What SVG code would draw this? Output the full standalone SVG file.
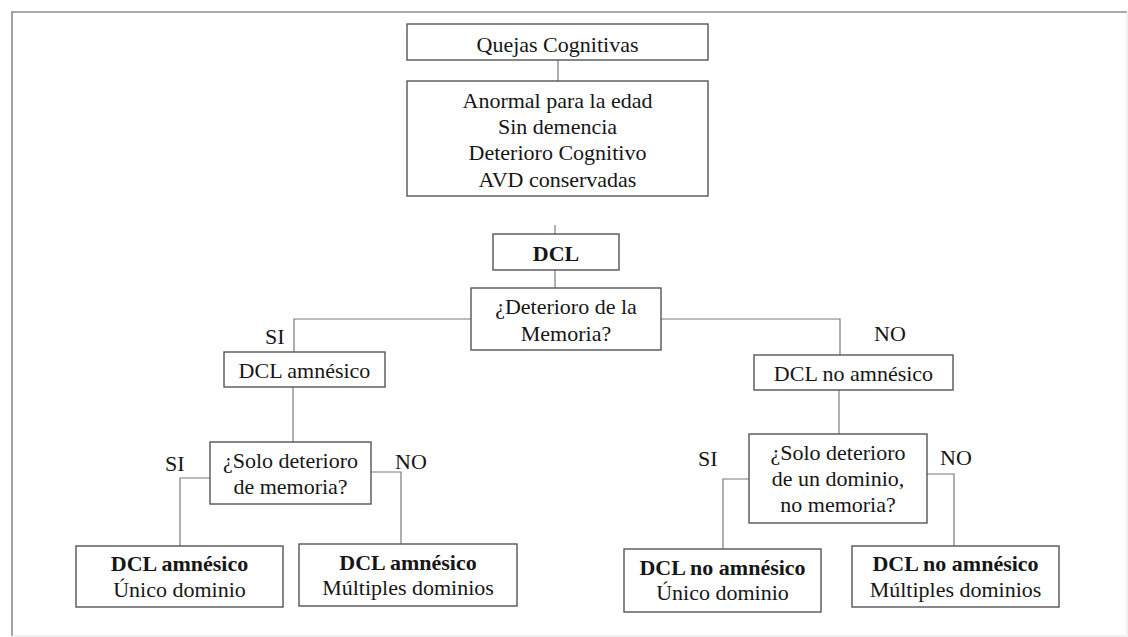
<svg xmlns="http://www.w3.org/2000/svg" width="1128" height="637" viewBox="0 0 1128 637">
<style>
.box{fill:#fff;stroke:#555;stroke-width:1.4}
text{font-family:"Liberation Serif","Times New Roman",serif;font-size:22px;fill:#161616}
.t{text-anchor:middle}
.b{font-weight:bold}
.c{fill:none;stroke:#7a7a7a;stroke-width:1.2}
</style>
<rect x="0" y="0" width="1128" height="637" fill="#fff"/>
<g id="frame">
<line x1="11" y1="12" x2="1127" y2="12" stroke="#8c8c8c" stroke-width="1.6"/>
<line x1="12" y1="12" x2="12" y2="636" stroke="#8c8c8c" stroke-width="1.6"/>
<line x1="1127" y1="12" x2="1127" y2="636" stroke="#e2e2e2" stroke-width="1"/>
<line x1="12" y1="636" x2="1127" y2="636" stroke="#e2e2e2" stroke-width="1"/>
</g>
<g id="connectors">
<line class="c" x1="558" y1="60" x2="558" y2="81"/>
<line class="c" x1="555" y1="225" x2="555" y2="234"/>
<line class="c" x1="555" y1="270" x2="555" y2="288"/>
<polyline class="c" points="471,319 294,319 294,352"/>
<polyline class="c" points="661,319 840,319 840,355"/>
<line class="c" x1="293" y1="387" x2="293" y2="442"/>
<polyline class="c" points="210,478 180,478 180,546"/>
<polyline class="c" points="371,472 401,472 401,544"/>
<line class="c" x1="839" y1="390" x2="839" y2="434"/>
<polyline class="c" points="749,479 723,479 723,549"/>
<polyline class="c" points="927,474 954,474 954,546"/>
</g>
<g id="labels">
<text x="265" y="344">SI</text>
<text x="874" y="341">NO</text>
<text x="165" y="471">SI</text>
<text x="395" y="469">NO</text>
<text x="698" y="466">SI</text>
<text x="940" y="465">NO</text>
</g>
<g id="quejas">
<rect class="box" x="407" y="24" width="301" height="36"/>
<text class="t" x="557.5" y="51.5">Quejas Cognitivas</text>
</g>
<g id="criterios">
<rect class="box" x="407" y="81" width="301" height="115"/>
<text class="t" x="557.5" y="107.5">Anormal para la edad</text>
<text class="t" x="557.5" y="134">Sin demencia</text>
<text class="t" x="557.5" y="160">Deterioro Cognitivo</text>
<text class="t" x="557.5" y="186.5">AVD conservadas</text>
</g>
<g id="dcl">
<rect class="box" x="493" y="234" width="126" height="36"/>
<text class="t b" x="556" y="260.5">DCL</text>
</g>
<g id="deterioro-memoria">
<rect class="box" x="471" y="288" width="190" height="62"/>
<text class="t" x="566" y="314">¿Deterioro de la</text>
<text class="t" x="566" y="341">Memoria?</text>
</g>
<g id="dcl-amnesico">
<rect class="box" x="224" y="352" width="161" height="35"/>
<text class="t" x="304.5" y="377.5">DCL amnésico</text>
</g>
<g id="solo-memoria">
<rect class="box" x="210" y="442" width="161" height="62"/>
<text class="t" x="290.5" y="468">¿Solo deterioro</text>
<text class="t" x="290.5" y="494">de memoria?</text>
</g>
<g id="amnesico-unico">
<rect class="box" x="76" y="546" width="207" height="61"/>
<text class="t b" x="179.5" y="571">DCL amnésico</text>
<text class="t" x="179.5" y="597">Único dominio</text>
</g>
<g id="amnesico-multiples">
<rect class="box" x="299" y="544" width="218" height="62"/>
<text class="t b" x="408" y="570">DCL amnésico</text>
<text class="t" x="408" y="595">Múltiples dominios</text>
</g>
<g id="dcl-no-amnesico">
<rect class="box" x="754" y="355" width="199" height="35"/>
<text class="t" x="853.5" y="380.5">DCL no amnésico</text>
</g>
<g id="solo-dominio">
<rect class="box" x="749" y="434" width="178" height="89"/>
<text class="t" x="838" y="460">¿Solo deterioro</text>
<text class="t" x="838" y="486">de un dominio,</text>
<text class="t" x="838" y="512">no memoria?</text>
</g>
<g id="no-amnesico-unico">
<rect class="box" x="624" y="549" width="197" height="63"/>
<text class="t b" x="722.5" y="575">DCL no amnésico</text>
<text class="t" x="722.5" y="600">Único dominio</text>
</g>
<g id="no-amnesico-multiples">
<rect class="box" x="852" y="546" width="207" height="61"/>
<text class="t b" x="955.5" y="571">DCL no amnésico</text>
<text class="t" x="955.5" y="597">Múltiples dominios</text>
</g>
</svg>
